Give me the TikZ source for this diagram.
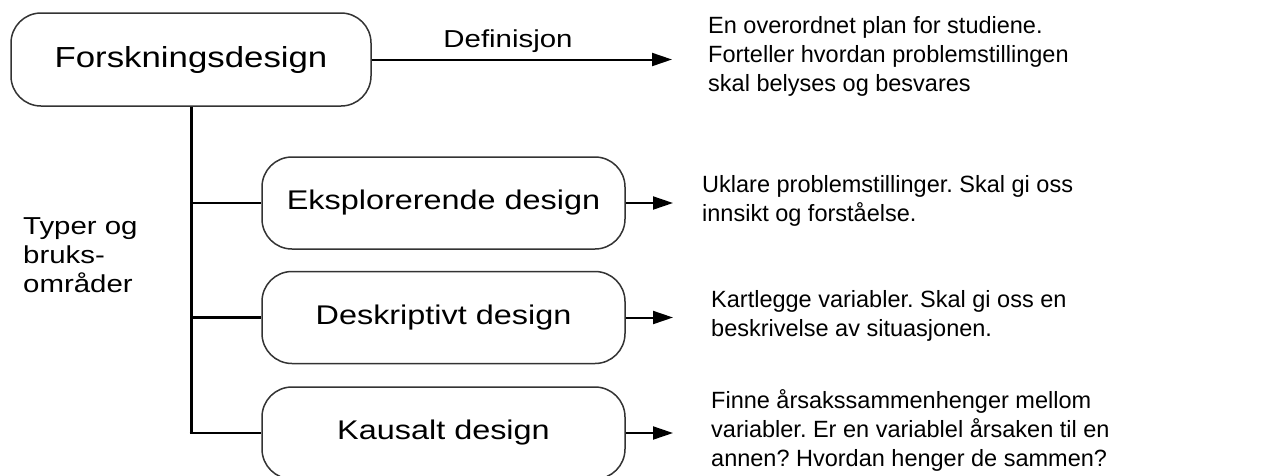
\documentclass[tikz,border=0pt]{standalone}
\usepackage{fontspec}
\setmainfont{Liberation Sans}
\newfontfamily\widefont{Liberation Sans}[FakeStretch=1.2]
\usetikzlibrary{arrows.meta}
\frenchspacing
\begin{document}
\begin{tikzpicture}[x=1pt,y=-1pt,
  box/.style={draw=black!80, line width=1.5pt, rounded corners=30pt, minimum width=363pt, minimum height=92pt, inner sep=0pt, font=\widefont\fontsize{27}{32}\selectfont},
  trunk/.style={line width=3pt},
  branch/.style={line width=2.2pt},
  arr/.style={line width=2pt, -{Triangle[length=20pt,width=13pt]}},
  desc/.style={anchor=north west, inner sep=0pt, align=left, font=\frenchspacing\fontsize{23.5}{29}\selectfont},
  lbl/.style={inner sep=0pt, font=\widefont\fontsize{24.5}{29}\selectfont}]
\useasboundingbox[fill=white] (0,0) rectangle (1271,475);
\node[box, minimum width=360pt, minimum height=93pt, font=\widefont\fontsize{29}{34}\selectfont] (main) at (191,59.5) {Forskningsdesign};
\node[box] (eksp) at (443.5,203) {Eksplorerende design};
\node[box] (desk) at (443.5,317.5) {Deskriptivt design};
\node[box] (kaus) at (443.5,433) {Kausalt design};
\coordinate (tip0) at (672,0);
\coordinate (tip) at (673,0);
\draw[trunk] (main.south) -- (main.south |- kaus.west);
\draw[branch] (main.south |- eksp.west) -- (eksp.west);
\draw[branch] (main.south |- desk.west) -- (desk.west);
\draw[branch] ([xshift=-1.5pt]main.south |- kaus.west) -- (kaus.west);
\draw[arr] (main.east) -- (main.east -| tip0);
\draw[arr] (eksp.east) -- (eksp.east -| tip);
\draw[arr] (desk.east) -- (desk.east -| tip);
\draw[arr] (kaus.east) -- (kaus.east -| tip);
\node[lbl, anchor=base] (def) at (508,47) {Definisjon};
\node[lbl, anchor=north west, align=left] (typ) at (23,217.5) {Typer og\\bruks-\\områder};
\node[desc] (t0) at (708,16.5) {En overordnet plan for studiene.\\Forteller hvordan problemstillingen\\skal belyses og besvares};
\node[desc] (t1) at (702,175) {Uklare problemstillinger. Skal gi oss\\innsikt og forståelse.};
\node[desc] (t2) at (711,290) {Kartlegge variabler. Skal gi oss en\\beskrivelse av situasjonen.};
\node[desc] (t3) at (711,389) {Finne årsakssammenhenger mellom\\variabler. Er en variablel årsaken til en\\annen? Hvordan henger de sammen?};
\end{tikzpicture}
\end{document}
